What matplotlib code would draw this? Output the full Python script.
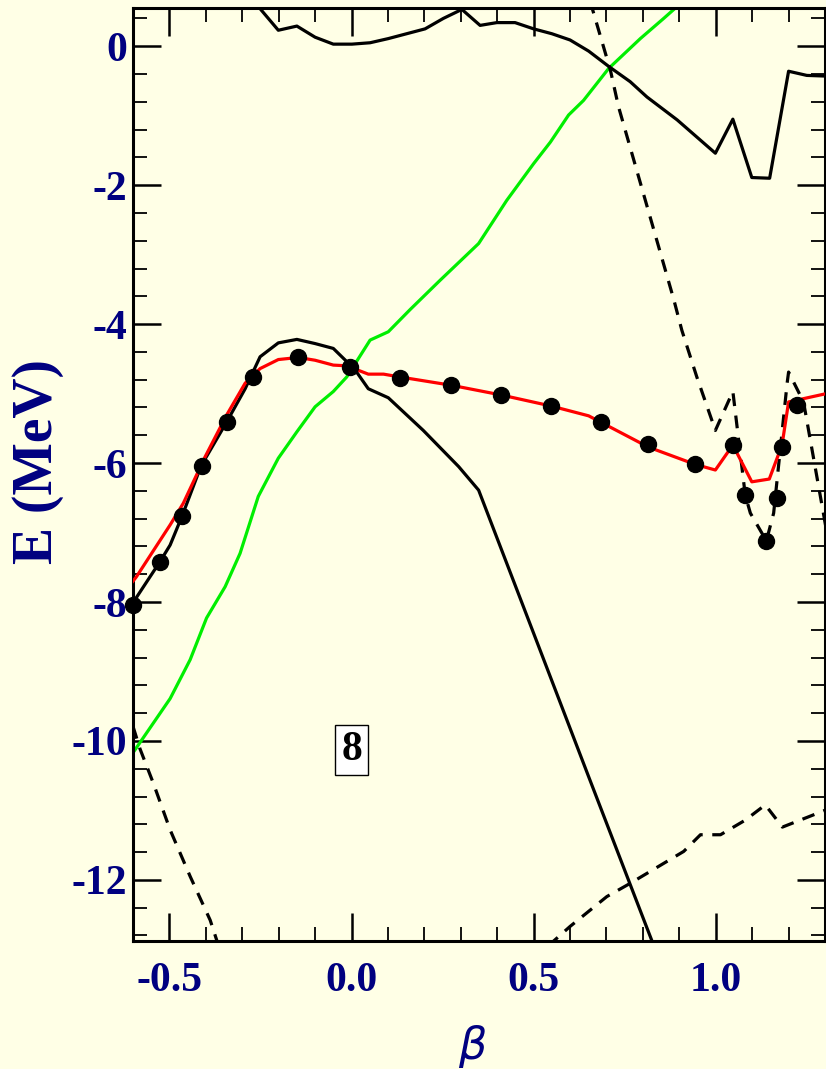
import numpy as np
import matplotlib
matplotlib.use("Agg")
import matplotlib.pyplot as plt
from matplotlib.ticker import MultipleLocator

# --- data (beta, E in MeV) ---
red_b = [-0.60, -0.591, -0.498, -0.462, -0.402, -0.343, -0.292, -0.251, -0.201, -0.146,
         -0.10, -0.05, -0.013, 0.046, 0.088, 0.132, 0.274, 0.411, 0.549, 0.651, 0.815,
         0.944, 0.999, 1.047, 1.099, 1.147, 1.182, 1.20, 1.304]
red_e = [-7.70, -7.64, -6.89, -6.58, -5.91, -5.31, -4.85, -4.64, -4.51, -4.48,
         -4.52, -4.59, -4.60, -4.72, -4.72, -4.76, -4.88, -5.02, -5.18, -5.32, -5.77,
         -6.02, -6.10, -5.74, -6.27, -6.23, -5.74, -5.12, -5.00]

dots_b = [-0.60, -0.526, -0.465, -0.41, -0.341, -0.27, -0.147, -0.005, 0.133, 0.274,
          0.411, 0.549, 0.686, 0.815, 0.944, 1.048, 1.081, 1.139, 1.167, 1.183, 1.224]
dots_e = [-8.04, -7.42, -6.76, -6.04, -5.41, -4.76, -4.48, -4.62, -4.77, -4.88,
          -5.02, -5.18, -5.41, -5.73, -6.02, -5.74, -6.46, -7.12, -6.50, -5.77, -5.17]

blk1_b = [-0.60, -0.595, -0.526, -0.498, -0.465, -0.413, -0.343, -0.292, -0.251, -0.201,
          -0.150, -0.10, -0.05, -0.013, 0.014, 0.046, 0.101, 0.197, 0.294, 0.349,
          0.50, 0.65, 0.825, 0.85]
blk1_e = [-8.05, -7.97, -7.42, -7.18, -6.76, -6.04, -5.41, -4.93, -4.47, -4.27,
          -4.22, -4.28, -4.35, -4.54, -4.69, -4.93, -5.06, -5.53, -6.05, -6.39,
          -8.45, -10.50, -12.88, -13.22]

blk2_b = [-0.27, -0.251, -0.201, -0.150, -0.10, -0.05, 0.001, 0.051, 0.101, 0.202,
          0.252, 0.303, 0.353, 0.399, 0.449, 0.50, 0.55, 0.60, 0.651, 0.706, 0.765,
          0.811, 0.894, 0.999, 1.047, 1.099, 1.148, 1.20, 1.25, 1.304]
blk2_e = [0.80, 0.54, 0.23, 0.29, 0.13, 0.03, 0.03, 0.05, 0.11, 0.25,
          0.40, 0.53, 0.30, 0.34, 0.34, 0.25, 0.18, 0.09, -0.07, -0.29, -0.51,
          -0.73, -1.06, -1.54, -1.05, -1.89, -1.90, -0.36, -0.42, -0.43]

grn_b = [-0.60, -0.498, -0.443, -0.398, -0.347, -0.306, -0.256, -0.201, -0.150, -0.10,
         -0.05, -0.013, 0.051, 0.101, 0.161, 0.243, 0.349, 0.426, 0.50, 0.546, 0.596,
         0.637, 0.706, 0.793, 0.857, 0.90]
grn_e = [-10.17, -9.39, -8.83, -8.23, -7.78, -7.30, -6.48, -5.93, -5.55, -5.19,
         -4.97, -4.76, -4.23, -4.11, -3.79, -3.37, -2.84, -2.22, -1.69, -1.38, -0.99,
         -0.78, -0.32, 0.11, 0.40, 0.60]

dsh1_b = [0.655, 0.711, 0.733, 0.885, 0.907, 0.948, 0.999, 1.047, 1.081, 1.095, 1.139,
          1.159, 1.196, 1.20, 1.241, 1.305]
dsh1_e = [0.65, -0.35, -0.87, -3.65, -4.09, -4.76, -5.53, -4.97, -6.46, -6.72, -7.12,
          -6.72, -4.85, -4.69, -5.12, -7.00]

dsh2_b = [-0.60, -0.581, -0.544, -0.498, -0.443, -0.388, -0.365]
dsh2_e = [-9.79, -10.11, -10.61, -11.28, -11.95, -12.58, -12.95]

dsh3_b = [0.54, 0.60, 0.701, 0.765, 0.912, 0.958, 1.013, 1.081, 1.136, 1.183, 1.304]
dsh3_e = [-12.95, -12.67, -12.24, -12.05, -11.59, -11.35, -11.35, -11.14, -10.92, -11.24, -10.99]

navy = "#000080"
bg = "#FFFFE6"
serif = ["Liberation Serif", "DejaVu Serif"]

fig = plt.figure(figsize=(8.26, 10.69), dpi=100, facecolor=bg)
ax = fig.add_axes([0.161, 0.1197, 0.8378, 0.8728], facecolor=bg)

lw = 2.3
ax.plot(grn_b, grn_e, color="#00EE00", lw=lw, zorder=2)
ax.plot(blk2_b, blk2_e, color="black", lw=lw, zorder=2)
ax.plot(blk1_b, blk1_e, color="black", lw=lw, zorder=2)
ax.plot(dsh1_b, dsh1_e, color="black", lw=lw, ls=(0, (4, 3)), zorder=2)
ax.plot(dsh2_b, dsh2_e, color="black", lw=lw, ls=(0, (4, 3)), zorder=2)
ax.plot(dsh3_b, dsh3_e, color="black", lw=lw, ls=(0, (4, 3)), zorder=2)
ax.plot(red_b, red_e, color="#FF0000", lw=lw, zorder=3)
ax.plot(dots_b, dots_e, ls="none", marker="o", ms=11.5, color="black", zorder=4,
        clip_on=False)

ax.set_xlim(-0.6, 1.3)
ax.set_ylim(-12.88, 0.55)

ax.xaxis.set_minor_locator(MultipleLocator(0.1))
ax.yaxis.set_minor_locator(MultipleLocator(0.4))
ax.set_xticks([-0.5, 0.0, 0.5, 1.0])
ax.set_xticklabels(["-0.5", "0.0", "0.5", "1.0"])
ax.set_yticks([0, -2, -4, -6, -8, -10, -12])
ax.set_yticklabels(["0", "-2", "-4", "-6", "-8", "-10", "-12"])

ax.tick_params(which="both", direction="in", top=True, right=True, colors="black")
ax.tick_params(which="major", length=20, width=1.8)
ax.tick_params(which="minor", length=10, width=1.3)
ax.tick_params(axis="x", which="major", pad=15)
ax.tick_params(axis="y", which="major", pad=4)
for lab in ax.get_xticklabels() + ax.get_yticklabels():
    lab.set_family(serif)
    lab.set_fontweight("bold")
    lab.set_fontsize(30)
    lab.set_color(navy)

for sp in ax.spines.values():
    sp.set_linewidth(2.2)

ax.set_ylabel("E (MeV)", family=serif, fontweight="bold", fontsize=40, color=navy)
ax.yaxis.set_label_coords(-0.099, 0.514)
ax.set_xlabel("β", family="DejaVu Sans", style="italic", fontsize=32, color=navy)
ax.xaxis.set_label_coords(0.49, -0.09)

ax.text(0.0, -10.13, "8", family=serif, fontweight="bold", fontsize=30, color="black",
        ha="center", va="center",
        bbox=dict(boxstyle="square,pad=0.15", fc="white", ec="black", lw=1.0))

fig.savefig("out.png", dpi=100, facecolor=bg)
